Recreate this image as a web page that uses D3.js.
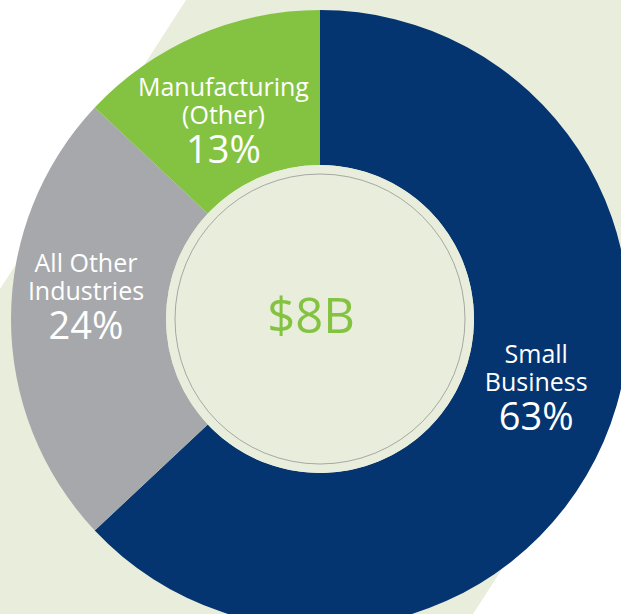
<!DOCTYPE html>
<html>
<head>
<meta charset="utf-8">
<script src="https://cdn.jsdelivr.net/npm/d3@7"></script>
<style>
  html, body { margin: 0; padding: 0; background: #ffffff; overflow: hidden; }
  svg { display: block; font-family: "Open Sans", "Noto Sans", sans-serif; }
</style>
</head>
<body>
<div id="chart"></div>
<script>
// chart data
const categories = ["Small Business", "All Other Industries", "Manufacturing (Other)"];
const labelLines = [["Small", "Business"], ["All Other", "Industries"], ["Manufacturing", "(Other)"]];
const shares = [63, 24, 13];
const totalLabel = "$8B";

const colors = ["#053570", "#a7a8ac", "#84c341"];
const bandColor = "#e8eddc";

const width = 621, height = 614;
const cx = 320, cy = 319;
const outerR = 309, innerR = 154;

const svg = d3.select("#chart")
    .append("svg")
    .attr("width", width)
    .attr("height", height);

// diagonal light band behind the donut
svg.append("polygon")
    .attr("points", "186,0 870,0 473,614 -209,614")
    .attr("fill", bandColor);

const g = svg.append("g")
    .attr("transform", "translate(" + cx + "," + cy + ")");

const pie = d3.pie()
    .sort(null)
    .value(d => d.value);

const arcs = pie(categories.map((c, i) => ({ name: c, value: shares[i], lines: labelLines[i], color: colors[i] })));

const arc = d3.arc()
    .innerRadius(innerR)
    .outerRadius(outerR);

g.selectAll("path.slice")
    .data(arcs)
    .enter()
    .append("path")
    .attr("class", "slice")
    .attr("d", arc)
    .attr("fill", d => d.data.color);

// centre disc
g.append("circle")
    .attr("r", innerR)
    .attr("fill", bandColor);

g.append("circle")
    .attr("r", 145)
    .attr("fill", "none")
    .attr("stroke", "#8a8a8a")
    .attr("stroke-width", 0.7);

g.append("text")
    .attr("x", -9)
    .attr("y", 14)
    .attr("text-anchor", "middle")
    .attr("fill", "#84c341")
    .style("font-size", "49px")
    .text(totalLabel);

// slice labels, placed near the centroid with a small nudge
const labelArc = d3.arc().innerRadius(228).outerRadius(228);
const nudge = [[7, -23], [-6, -23], [-6, 10]];

const labels = g.selectAll("g.label")
    .data(arcs)
    .enter()
    .append("g")
    .attr("class", "label")
    .attr("transform", (d, i) => {
        const c = labelArc.centroid(d);
        return "translate(" + (c[0] + nudge[i][0]) + "," + (c[1] + nudge[i][1]) + ")";
    })
    .attr("fill", "#ffffff")
    .attr("text-anchor", "middle");

labels.append("text")
    .attr("y", -24)
    .style("font-size", "25px")
    .text(d => d.data.lines[0]);

labels.append("text")
    .attr("y", 4)
    .style("font-size", "25px")
    .text(d => d.data.lines[1]);

labels.append("text")
    .attr("y", 43)
    .style("font-size", "38px")
    .text(d => d.data.value + "%");
</script>
</body>
</html>
